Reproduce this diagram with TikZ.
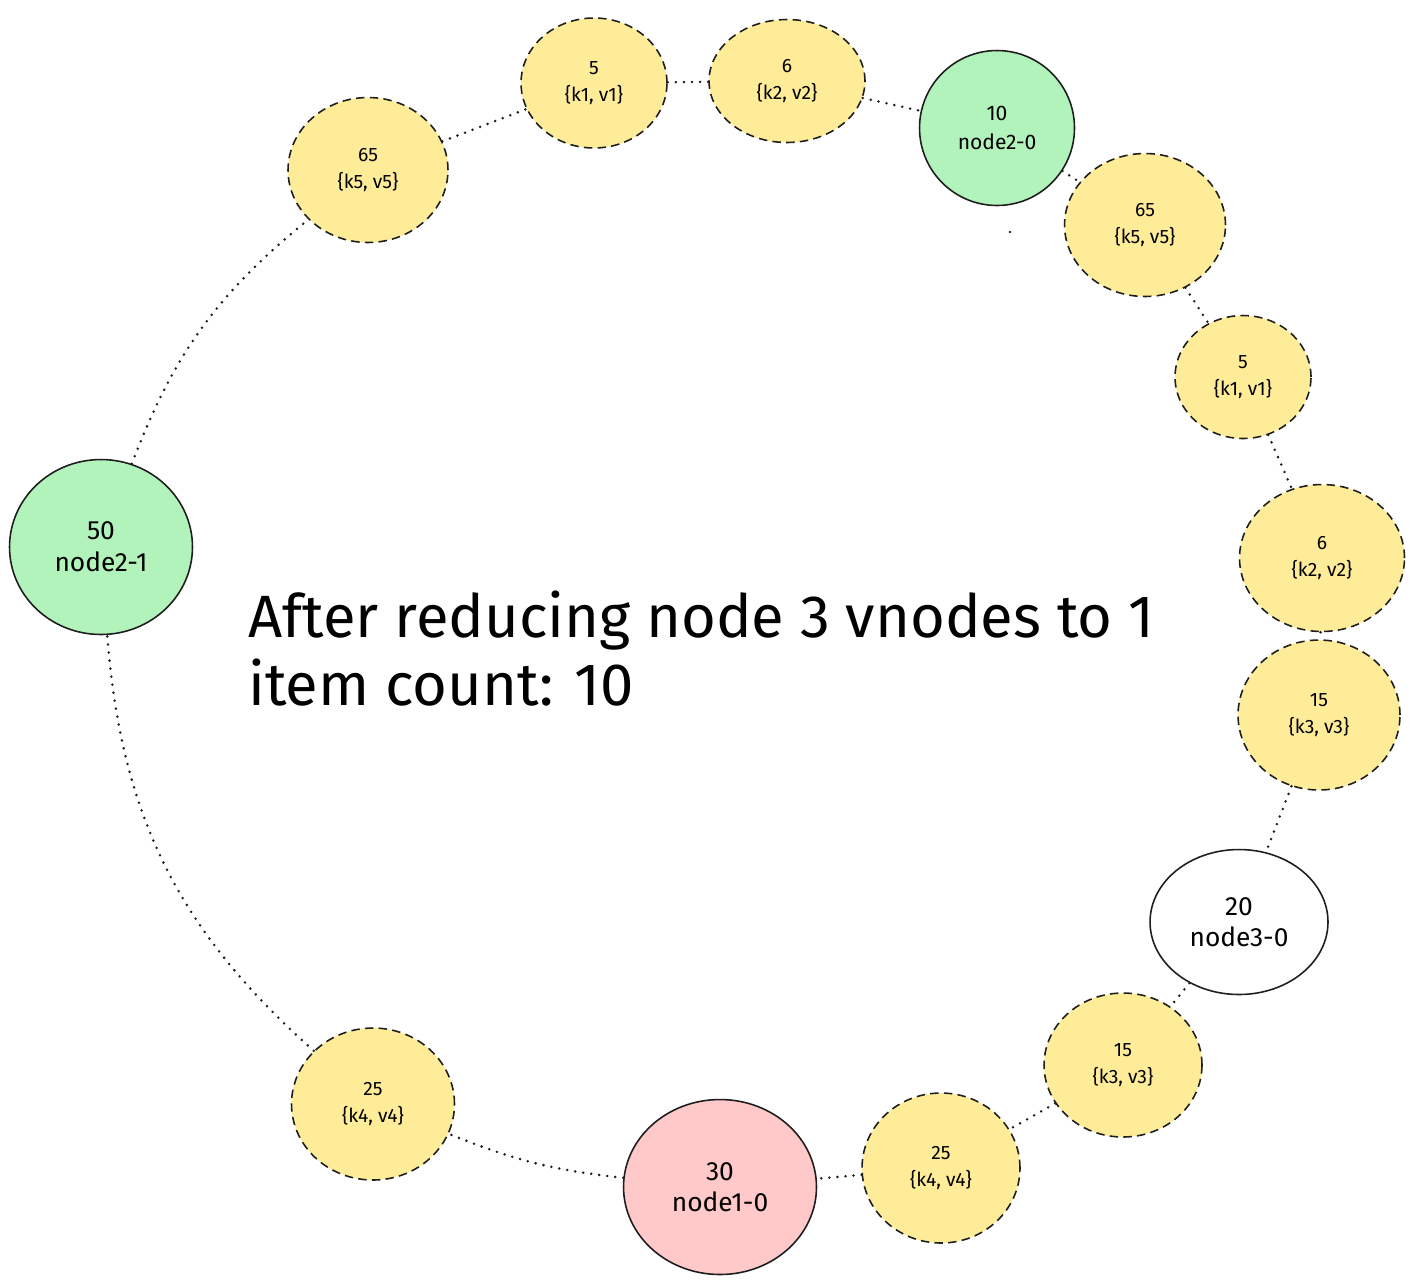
\documentclass[tikz,border=0pt]{standalone}
\usepackage{fontspec}
\setmainfont{Fira Sans}
\usepackage{tikz}
\usetikzlibrary{shapes.geometric}

\definecolor{ink}{HTML}{1E1E1E}
\definecolor{keyyellow}{HTML}{FFEC99}
\definecolor{vgreen}{HTML}{B2F2BB}
\definecolor{vpink}{HTML}{FFC9C9}

\tikzset{
  vnode/.style={ellipse, draw=ink, line width=0.9pt, align=center, inner sep=0pt,
                font=\fontsize{15}{18}\selectfont},
  keynode/.style={vnode, fill=keyyellow, dash pattern=on 4.8pt off 3pt,
                  font=\fontsize{11}{15.5}\selectfont},
  ring/.style={draw=ink, line width=1.6pt, dash pattern=on 0pt off 4.6pt, line cap=round}
}

\begin{document}
\begin{tikzpicture}[x=0.02cm, y=-0.02cm]
\useasboundingbox (0,0) rectangle (1415,1286);

% vnodes of the ring
\node[vnode, fill=vgreen, minimum width=3.66cm, minimum height=3.5cm] (n50) at (101,547) {50\\node2-1};
\node[keynode, minimum width=3.2cm, minimum height=2.9cm] (a65) at (368,170) {65\\\{k5, v5\}};
\node[keynode, minimum width=2.92cm, minimum height=2.6cm] (a5) at (594,83) {5\\\{k1, v1\}};
\node[keynode, minimum width=3.12cm, minimum height=2.46cm] (a6) at (787,81) {6\\\{k2, v2\}};
\node[vnode, fill=vgreen, minimum width=3.1cm, minimum height=3.1cm,
      font=\fontsize{12}{16}\selectfont] (n10) at (997,128) {10\\node2-0};
\node[keynode, minimum width=3.22cm, minimum height=2.86cm] (b65) at (1145,225) {65\\\{k5, v5\}};
\node[keynode, minimum width=2.72cm, minimum height=2.46cm] (b5) at (1243,377) {5\\\{k1, v1\}};
\node[keynode, minimum width=3.3cm, minimum height=2.94cm] (b6) at (1322,558) {6\\\{k2, v2\}};
\node[keynode, minimum width=3.24cm, minimum height=3.0cm] (b15) at (1319,715) {15\\\{k3, v3\}};
\node[vnode, fill=white, minimum width=3.56cm, minimum height=2.9cm] (n20) at (1239,922) {20\\node3-0};
\node[keynode, minimum width=3.16cm, minimum height=2.88cm] (c15) at (1123,1065) {15\\\{k3, v3\}};
\node[keynode, minimum width=3.16cm, minimum height=3.0cm] (c25) at (941,1168) {25\\\{k4, v4\}};
\node[vnode, fill=vpink, minimum width=3.86cm, minimum height=3.5cm] (n30) at (720,1187) {30\\node1-0};
\node[keynode, minimum width=3.26cm, minimum height=3.04cm] (d25) at (373,1104) {25\\\{k4, v4\}};

% dotted ring, clockwise
\draw[ring] (n50) to[bend left=15] (a65);
\draw[ring] (a65) -- (a5);
\draw[ring] (a5) -- (a6);
\draw[ring] (a6) -- (n10);
\draw[ring] (n10) -- (b65);
\draw[ring] (b65) -- (b5);
\draw[ring] (b5) -- (b6);
\draw[ring] (b6) -- (b15);
\draw[ring] (b15) -- (n20);
\draw[ring] (n20) -- (c15);
\draw[ring] (c15) -- (c25);
\draw[ring] (c25) -- (n30);
\draw[ring] (n30) to[bend left=8] (d25);
\draw[ring] (d25) to[bend left=22] (n50);

\fill[ink] (1010,232) circle (1.3);

\node[anchor=base west, align=left, inner sep=0pt,
      font=\fontsize{34}{38.5}\selectfont] (title) at (248,705)
  {After reducing node 3 vnodes to 1\\item count: 10};

\end{tikzpicture}
\end{document}
